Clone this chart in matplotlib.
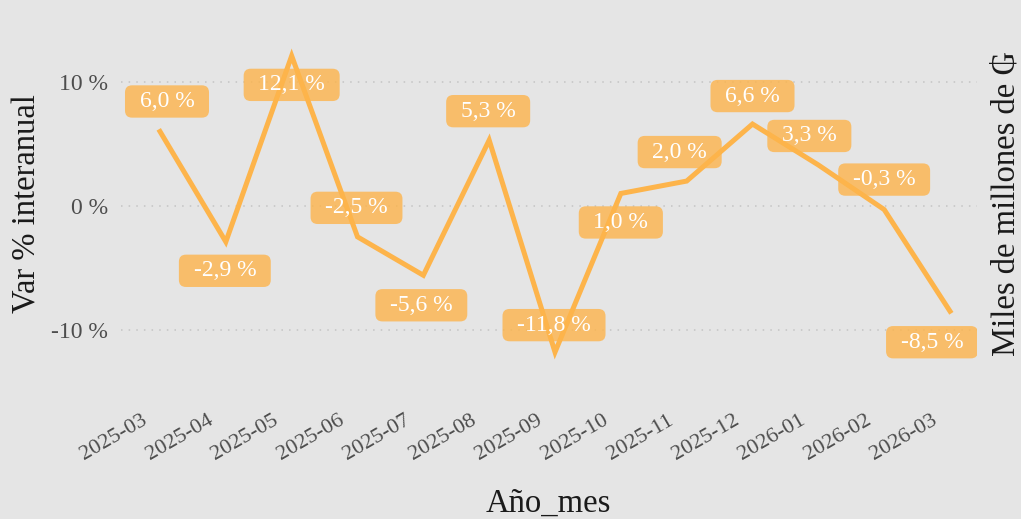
import matplotlib
matplotlib.use('Agg')
import matplotlib.pyplot as plt
from matplotlib.patches import BoxStyle

# data
meses = ['2025-03', '2025-04', '2025-05', '2025-06', '2025-07', '2025-08', '2025-09',
         '2025-10', '2025-11', '2025-12', '2026-01', '2026-02', '2026-03']
var_interanual = [6.0, -2.9, 12.1, -2.5, -5.6, 5.3, -11.8, 1.0, 2.0, 6.6, 3.3, -0.3, -8.5]

# label offsets (pixels) roughly like ggrepel placed them
label_dx = [7, -1, 0, -1, -2, -1, -1, 0, -7, 0, -9, 0, -18]
label_dy = [30, -29, -29, 29, -30, 29, 27, -29, 29, 28, 29, 30, -31]

bg = '#e5e5e5'
naranja = '#fdb44b'
serif = ['Liberation Serif', 'DejaVu Serif']
plt.rcParams['font.family'] = serif


class WideRound:
    """Rounded box with separate horizontal/vertical padding."""
    def __init__(self, padx, pady, r):
        self.padx, self.pady, self.r = padx, pady, r

    def __call__(self, x0, y0, width, height, mutation_size):
        px = self.padx * mutation_size
        py = self.pady * mutation_size
        return BoxStyle.Round(pad=0, rounding_size=self.r)(
            x0 - px, y0 - py, width + 2 * px, height + 2 * py, mutation_size)


fig = plt.figure(figsize=(10.21, 5.19), dpi=100, facecolor=bg)
ax = fig.add_axes([120.5 / 1021, 1 - 367 / 519, (977 - 120.5) / 1021, (367 - 41) / 519])
ax.set_facecolor(bg)

x = list(range(1, len(meses) + 1))
ax.plot(x, var_interanual, color=naranja, lw=3.6, solid_joinstyle='miter', zorder=2)

for xi, yi, dx, dy in zip(x, var_interanual, label_dx, label_dy):
    txt = f"{yi:.1f}".replace('.', ',') + ' %'
    ax.annotate(txt, (xi, yi), xytext=(dx, dy), textcoords='offset pixels',
                ha='center', va='center', color='white', fontsize=17,
                bbox=dict(boxstyle=WideRound(0.62, 0.24, 0.3), fc=naranja, ec='none', alpha=0.8),
                zorder=3, annotation_clip=False, clip_on=True)

ax.set_xlim(0.4, 13.41)
ax.set_ylim(-13.0, 13.3)
ax.set_xticks(x)
ax.set_xticklabels([])
# rotated month labels, placed by hand so they sit a bit left of the tick
for xi, m in zip(x, meses):
    ax.annotate(m, (xi, 0), xycoords=ax.get_xaxis_transform(),
                xytext=(-19, -44), textcoords='offset pixels',
                rotation=30, ha='right', va='top', rotation_mode='anchor',
                fontsize=16, color='#4d4d4d', annotation_clip=False)
ax.set_yticks([-10, 0, 10])
ax.set_yticklabels(['-10 %', '0 %', '10 %'])
ax.tick_params(axis='both', length=0, labelsize=17, labelcolor='#4d4d4d')
ax.tick_params(axis='y', pad=9)

ax.grid(axis='y', linestyle=(0, (1, 4)), color='#c4c4c4', lw=1.1)
ax.set_axisbelow(True)
for s in ax.spines.values():
    s.set_visible(False)

ax.set_xlabel('Año_mes', fontsize=23.5, color='#1a1a1a', labelpad=84)
ax.set_ylabel('Var % interanual', fontsize=23.5, color='#1a1a1a', labelpad=6)

ax2 = ax.twinx()
ax2.set_ylim(ax.get_ylim())
ax2.set_yticks([])
for s in ax2.spines.values():
    s.set_visible(False)
ax2.set_ylabel('Miles de millones de ₲', fontsize=23.5, color='#1a1a1a', labelpad=10)

fig.savefig('out.png', dpi=100, facecolor=bg)
